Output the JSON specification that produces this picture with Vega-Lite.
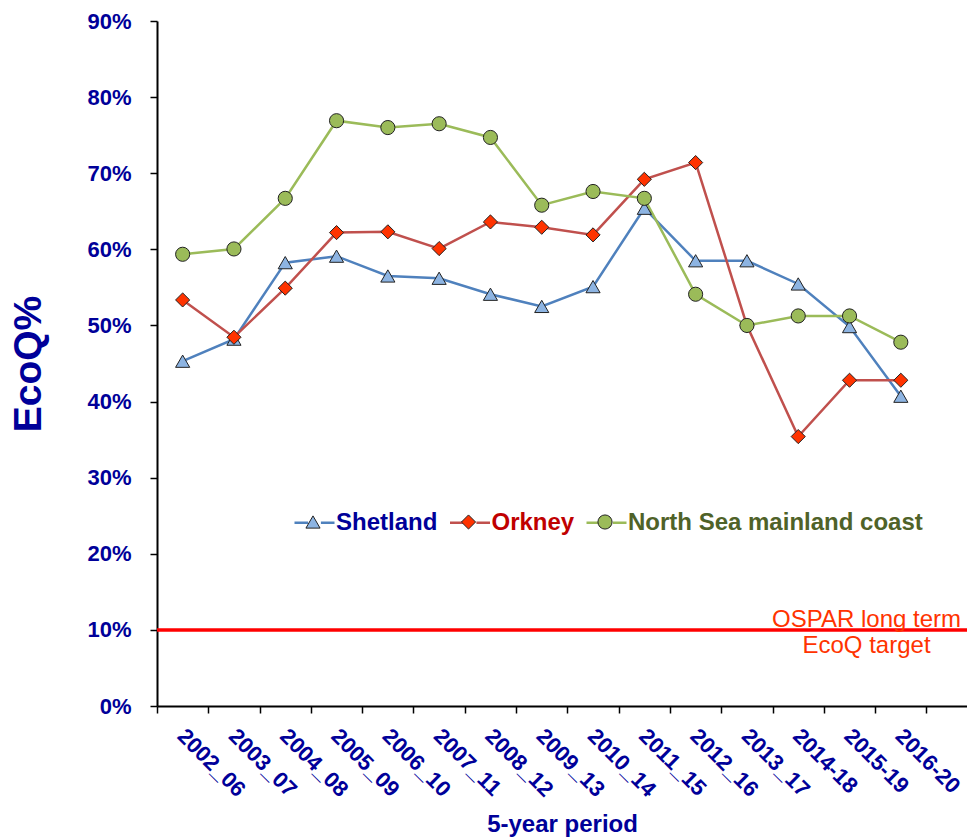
{
  "$schema": "https://vega.github.io/schema/vega-lite/v6.json",
  "width": 810,
  "height": 685,
  "autosize": {"type": "none"},
  "padding": {"left": 157, "top": 21, "right": 0, "bottom": 133},
  "background": "white",
  "config": {
    "font": "Liberation Sans",
    "view": {"stroke": null},
    "axis": {"grid": false},
    "legend": {"padding": 0}
  },
  "datasets": {
    "series": [
      {"period": "2002_06", "series": "Shetland", "value": 0.453},
      {"period": "2003_07", "series": "Shetland", "value": 0.482},
      {"period": "2004_08", "series": "Shetland", "value": 0.5825},
      {"period": "2005_09", "series": "Shetland", "value": 0.591},
      {"period": "2006_10", "series": "Shetland", "value": 0.565},
      {"period": "2007_11", "series": "Shetland", "value": 0.562},
      {"period": "2008_12", "series": "Shetland", "value": 0.541},
      {"period": "2009_13", "series": "Shetland", "value": 0.525},
      {"period": "2010_14", "series": "Shetland", "value": 0.551},
      {"period": "2011_15", "series": "Shetland", "value": 0.654},
      {"period": "2012_16", "series": "Shetland", "value": 0.585},
      {"period": "2013_17", "series": "Shetland", "value": 0.585},
      {"period": "2014-18", "series": "Shetland", "value": 0.5545},
      {"period": "2015-19", "series": "Shetland", "value": 0.4985},
      {"period": "2016-20", "series": "Shetland", "value": 0.407},
      {"period": "2002_06", "series": "Orkney", "value": 0.5335},
      {"period": "2003_07", "series": "Orkney", "value": 0.4845},
      {"period": "2004_08", "series": "Orkney", "value": 0.549},
      {"period": "2005_09", "series": "Orkney", "value": 0.622},
      {"period": "2006_10", "series": "Orkney", "value": 0.623},
      {"period": "2007_11", "series": "Orkney", "value": 0.601},
      {"period": "2008_12", "series": "Orkney", "value": 0.636},
      {"period": "2009_13", "series": "Orkney", "value": 0.629},
      {"period": "2010_14", "series": "Orkney", "value": 0.619},
      {"period": "2011_15", "series": "Orkney", "value": 0.692},
      {"period": "2012_16", "series": "Orkney", "value": 0.714},
      {"period": "2013_17", "series": "Orkney", "value": 0.50},
      {"period": "2014-18", "series": "Orkney", "value": 0.354},
      {"period": "2015-19", "series": "Orkney", "value": 0.428},
      {"period": "2016-20", "series": "Orkney", "value": 0.428},
      {"period": "2002_06", "series": "North Sea mainland coast", "value": 0.5935},
      {"period": "2003_07", "series": "North Sea mainland coast", "value": 0.6005},
      {"period": "2004_08", "series": "North Sea mainland coast", "value": 0.667},
      {"period": "2005_09", "series": "North Sea mainland coast", "value": 0.769},
      {"period": "2006_10", "series": "North Sea mainland coast", "value": 0.760},
      {"period": "2007_11", "series": "North Sea mainland coast", "value": 0.765},
      {"period": "2008_12", "series": "North Sea mainland coast", "value": 0.747},
      {"period": "2009_13", "series": "North Sea mainland coast", "value": 0.658},
      {"period": "2010_14", "series": "North Sea mainland coast", "value": 0.676},
      {"period": "2011_15", "series": "North Sea mainland coast", "value": 0.667},
      {"period": "2012_16", "series": "North Sea mainland coast", "value": 0.541},
      {"period": "2013_17", "series": "North Sea mainland coast", "value": 0.500},
      {"period": "2014-18", "series": "North Sea mainland coast", "value": 0.5125},
      {"period": "2015-19", "series": "North Sea mainland coast", "value": 0.5125},
      {"period": "2016-20", "series": "North Sea mainland coast", "value": 0.478}
    ],
    "target": [
      {"target": 0.1, "period": "2015-19", "label": ["OSPAR long term", "EcoQ target"]}
    ]
  },
  "layer": [
    {
      "data": {"name": "target"},
      "mark": {"type": "rule", "color": "#FF0000", "strokeWidth": 3.5},
      "encoding": {
        "y": {"field": "target", "type": "quantitative"}
      }
    },
    {
      "data": {"name": "series"},
      "mark": {"type": "line", "strokeWidth": 2.5},
      "encoding": {
        "x": {
          "field": "period",
          "type": "ordinal",
          "sort": null,
          "scale": {
            "domain": ["2002_06", "2003_07", "2004_08", "2005_09", "2006_10", "2007_11", "2008_12", "2009_13", "2010_14", "2011_15", "2012_16", "2013_17", "2014-18", "2015-19", "2016-20"],
            "paddingInner": 0,
            "paddingOuter": 0.395,
            "align": 0
          },
          "axis": {
            "title": "5-year period",
            "tickBand": "extent",
            "labelAngle": 45,
            "labelAlign": "left",
            "labelBaseline": "top",
            "labelFontSize": 22,
            "labelFontWeight": "bold",
            "labelColor": "#000099",
            "labelPadding": 12,
            "labelOffset": 5,
            "labelOverlap": false,
            "titleFontSize": 24,
            "titleFontWeight": "bold",
            "titleColor": "#000099",
            "titlePadding": 12,
            "domainColor": "black",
            "domainWidth": 2,
            "tickColor": "black",
            "tickWidth": 1.5,
            "tickSize": 7
          }
        },
        "y": {
          "field": "value",
          "type": "quantitative",
          "scale": {"domain": [0, 0.9], "nice": false},
          "axis": {
            "title": "EcoQ%",
            "format": ".0%",
            "values": [0, 0.1, 0.2, 0.3, 0.4, 0.5, 0.6, 0.7, 0.8, 0.9],
            "labelFontSize": 22,
            "labelFontWeight": "bold",
            "labelColor": "#000099",
            "labelPadding": 19,
            "titleFontSize": 39,
            "titleFontWeight": "bold",
            "titleColor": "#000099",
            "titlePadding": 38,
            "domainColor": "black",
            "domainWidth": 2,
            "tickColor": "black",
            "tickWidth": 1.5,
            "tickSize": 7
          }
        },
        "color": {
          "field": "series",
          "type": "nominal",
          "scale": {
            "domain": ["Shetland", "Orkney", "North Sea mainland coast"],
            "range": ["#4F81BD", "#C0504D", "#9BBB59"]
          },
          "legend": {
            "title": null,
            "orient": "none",
            "legendX": 136,
            "legendY": 480,
            "direction": "horizontal",
            "symbolType": "M-1,0H-0.32M0.32,0H1",
            "symbolSize": 1600,
            "symbolStrokeWidth": 2.5,
            "labelFontSize": 24,
            "labelFontWeight": "bold",
            "labelLimit": 500,
            "labelOffset": 0,
            "columnPadding": 6.5,
            "labelColor": {"expr": "datum.value === 'Shetland' ? '#000099' : datum.value === 'Orkney' ? '#C00000' : '#4F6228'"}
          }
        }
      }
    },
    {
      "data": {"name": "series"},
      "mark": {"type": "point", "filled": true, "size": 200, "stroke": "#222222", "strokeWidth": 1, "opacity": 1},
      "encoding": {
        "x": {"field": "period", "type": "ordinal"},
        "y": {"field": "value", "type": "quantitative"},
        "fill": {
          "field": "series",
          "type": "nominal",
          "sort": null,
          "scale": {
            "range": ["#8DB4E2", "#FF3300", "#9BBB59"]
          },
          "legend": {
            "title": null,
            "orient": "none",
            "legendX": 144,
            "legendY": 489,
            "direction": "horizontal",
            "symbolSize": 200,
            "symbolStrokeWidth": 1,
            "labelFontSize": 24,
            "labelFontWeight": "bold",
            "labelLimit": 500,
            "labelOffset": 16,
            "columnPadding": 13.5,
            "labelOpacity": 0
          }
        },
        "shape": {
          "field": "series",
          "type": "nominal",
          "sort": null,
          "scale": {
            "range": ["triangle-up", "diamond", "circle"]
          },
          "legend": {
            "title": null,
            "orient": "none",
            "legendX": 144,
            "legendY": 489,
            "direction": "horizontal",
            "symbolSize": 200,
            "symbolStrokeWidth": 1,
            "labelFontSize": 24,
            "labelFontWeight": "bold",
            "labelLimit": 500,
            "labelOffset": 16,
            "columnPadding": 13.5,
            "labelOpacity": 0
          }
        }
      }
    },
    {
      "data": {"name": "target"},
      "mark": {"type": "text", "color": "#FF3300", "fontSize": 24, "align": "center", "baseline": "alphabetic", "lineHeight": 26, "dx": 17, "dy": -3},
      "encoding": {
        "x": {"field": "period", "type": "ordinal"},
        "y": {"field": "target", "type": "quantitative"},
        "text": {"field": "label"}
      }
    }
  ]
}
